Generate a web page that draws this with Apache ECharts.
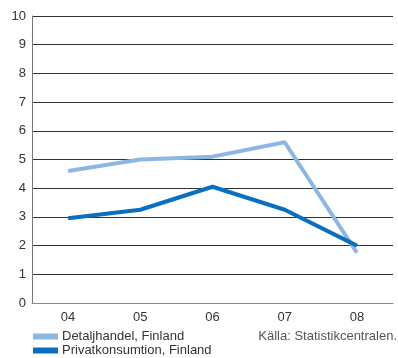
<!DOCTYPE html>
<html>
<head>
<meta charset="utf-8">
<script src="https://cdn.jsdelivr.net/npm/echarts@6/dist/echarts.min.js"></script>
<style>
  html, body { margin: 0; padding: 0; background: #fff; }
  #chart { width: 398px; height: 358px; }
</style>
</head>
<body>
<div id="chart"></div>
<script>
// Years on the category axis
const years = ['04', '05', '06', '07', '08'];
// Annual change, per cent
const detaljhandel = [4.6, 5.0, 5.1, 5.6, 1.75];
const privatkonsumtion = [2.95, 3.25, 4.05, 3.25, 2.0];

const seriesNames = ['Detaljhandel, Finland', 'Privatkonsumtion, Finland'];
const sourceText = 'Källa: Statistikcentralen.';

const FONT = '"Liberation Sans", Arial, sans-serif';
const LIGHT = '#8cb7e2';
const DARK = '#0b6fc1';

const chart = echarts.init(document.getElementById('chart'), null, { renderer: 'canvas' });

chart.setOption({
  animation: false,
  backgroundColor: '#fff',
  textStyle: { fontFamily: FONT },
  grid: { left: 32, right: 5, top: 16, bottom: 55, containLabel: false },
  xAxis: {
    type: 'category',
    data: years,
    boundaryGap: true,
    axisLine: { show: true, lineStyle: { color: '#888', width: 1 } },
    axisTick: { show: false },
    axisLabel: { color: '#333', fontSize: 13, fontFamily: FONT, margin: 8 },
    splitLine: { show: false }
  },
  yAxis: {
    type: 'value',
    min: 0,
    max: 10,
    interval: 1,
    axisLine: { show: true, lineStyle: { color: '#777', width: 1 } },
    axisTick: { show: false },
    axisLabel: { color: '#333', fontSize: 13, fontFamily: FONT, margin: 6 },
    splitLine: { show: true, lineStyle: { color: '#333', width: 1 } }
  },
  legend: {
    type: 'plain',
    orient: 'vertical',
    left: 33,
    top: 330,
    padding: 0,
    itemWidth: 25,
    itemHeight: 6,
    itemGap: 1,
    icon: 'rect',
    textStyle: { color: '#333', fontSize: 13, fontFamily: FONT, padding: [0, 0, 0, -1] },
    data: seriesNames
  },
  graphic: [{
    type: 'text',
    right: 1,
    top: 330,
    style: { text: sourceText, fill: '#555', font: '13px ' + FONT }
  }],
  series: [
    {
      name: seriesNames[0],
      type: 'line',
      data: detaljhandel,
      symbol: 'none',
      color: LIGHT,
      lineStyle: { color: LIGHT, width: 4 },
      z: 3
    },
    {
      name: seriesNames[1],
      type: 'line',
      data: privatkonsumtion,
      symbol: 'none',
      color: DARK,
      lineStyle: { color: DARK, width: 4 },
      z: 4
    }
  ]
});
</script>
</body>
</html>
